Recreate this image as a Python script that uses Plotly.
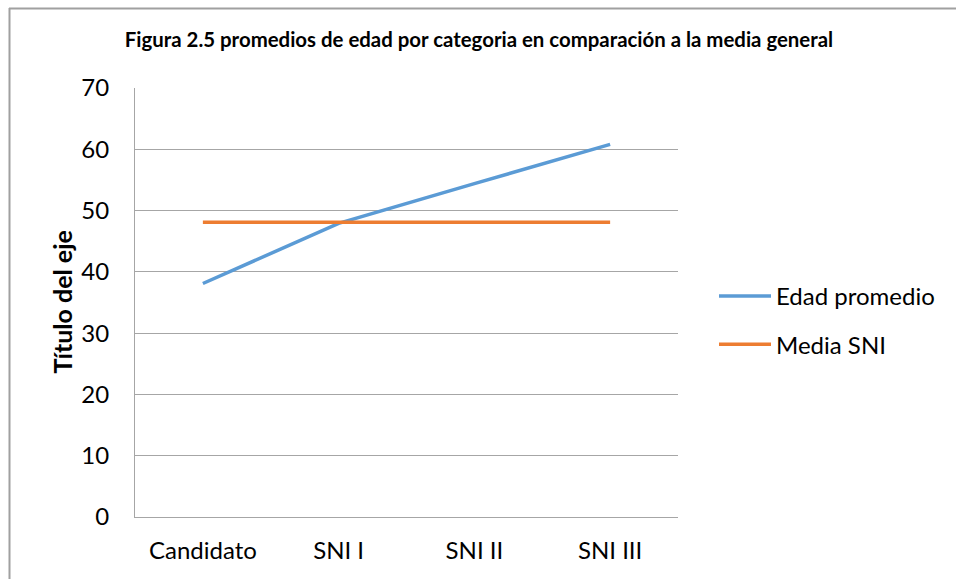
import plotly.graph_objects as go

categories = ["Candidato", "SNI I", "SNI II", "SNI III"]
edad_promedio = [38.1, 47.9, 54.4, 60.8]
media_sni = [48.1, 48.1, 48.1, 48.1]
y_ticks = [0, 10, 20, 30, 40, 50, 60, 70]

FONT = "Lato, Open Sans, sans-serif"
L, R, T, B = 135, 678, 88, 517
W, H = 956, 579
pw, ph = R - L, B - T

def px(x):
    return (x - L) / pw

def py(y):
    return (B - y) / ph

fig = go.Figure()
fig.add_trace(go.Scatter(x=categories, y=edad_promedio, mode="lines", name="Edad promedio",
                         line=dict(color="#5B9BD5", width=3.5), legendgroup="a"))
fig.add_trace(go.Scatter(x=categories, y=media_sni, mode="lines", name="Media SNI",
                         line=dict(color="#ED7D31", width=3.5), legendgroup="b"))

fig.update_layout(
    width=W, height=H,
    margin=dict(l=L, r=W - R, t=T, b=H - B),
    paper_bgcolor="white", plot_bgcolor="white",
    font=dict(family=FONT, color="#000000", size=22),
    title=dict(text="<b>Figura 2.5 promedios de edad por categoria en comparación a la media general</b>",
               x=479 / W, xanchor="center", y=1 - 40 / H, yanchor="middle",
               font=dict(size=20.4, family=FONT, color="#000000")),
    xaxis=dict(type="category", range=[-0.5, 3.5], showgrid=False, showline=True,
               linecolor="#a6a6a6", linewidth=1, ticks="", tickfont=dict(size=24),
               ticklabelstandoff=12),
    yaxis=dict(range=[0, 70], tickvals=y_ticks, showgrid=True, gridcolor="#a6a6a6",
               gridwidth=1, showline=True, linecolor="#a6a6a6", linewidth=1, ticks="",
               zeroline=False, tickfont=dict(size=24), ticklabelstandoff=20),
    legend=dict(x=px(714), y=py(274), xanchor="left", yanchor="top",
                font=dict(size=24, family=FONT), tracegroupgap=14, itemwidth=52,
                bgcolor="rgba(0,0,0,0)"),
    showlegend=True,
)

fig.add_annotation(text="<b>Título del eje</b>", x=px(61), y=0.5, xref="paper", yref="paper",
                   textangle=-90, showarrow=False, xanchor="center", yanchor="middle",
                   font=dict(size=25, family=FONT, color="#000000"))

# outer chart frame (top and left edges visible)
fig.add_shape(type="line", xref="paper", yref="paper", x0=px(9), x1=px(W + 5), y0=py(8.5), y1=py(8.5),
              line=dict(color="#a0a0a0", width=2))
fig.add_shape(type="line", xref="paper", yref="paper", x0=px(9.5), x1=px(9.5), y0=py(8), y1=py(H + 5),
              line=dict(color="#a0a0a0", width=2))

fig.write_html("out.html", config={"displayModeBar": False},
               post_script="document.body.style.margin='0';document.body.style.overflow='hidden';")
